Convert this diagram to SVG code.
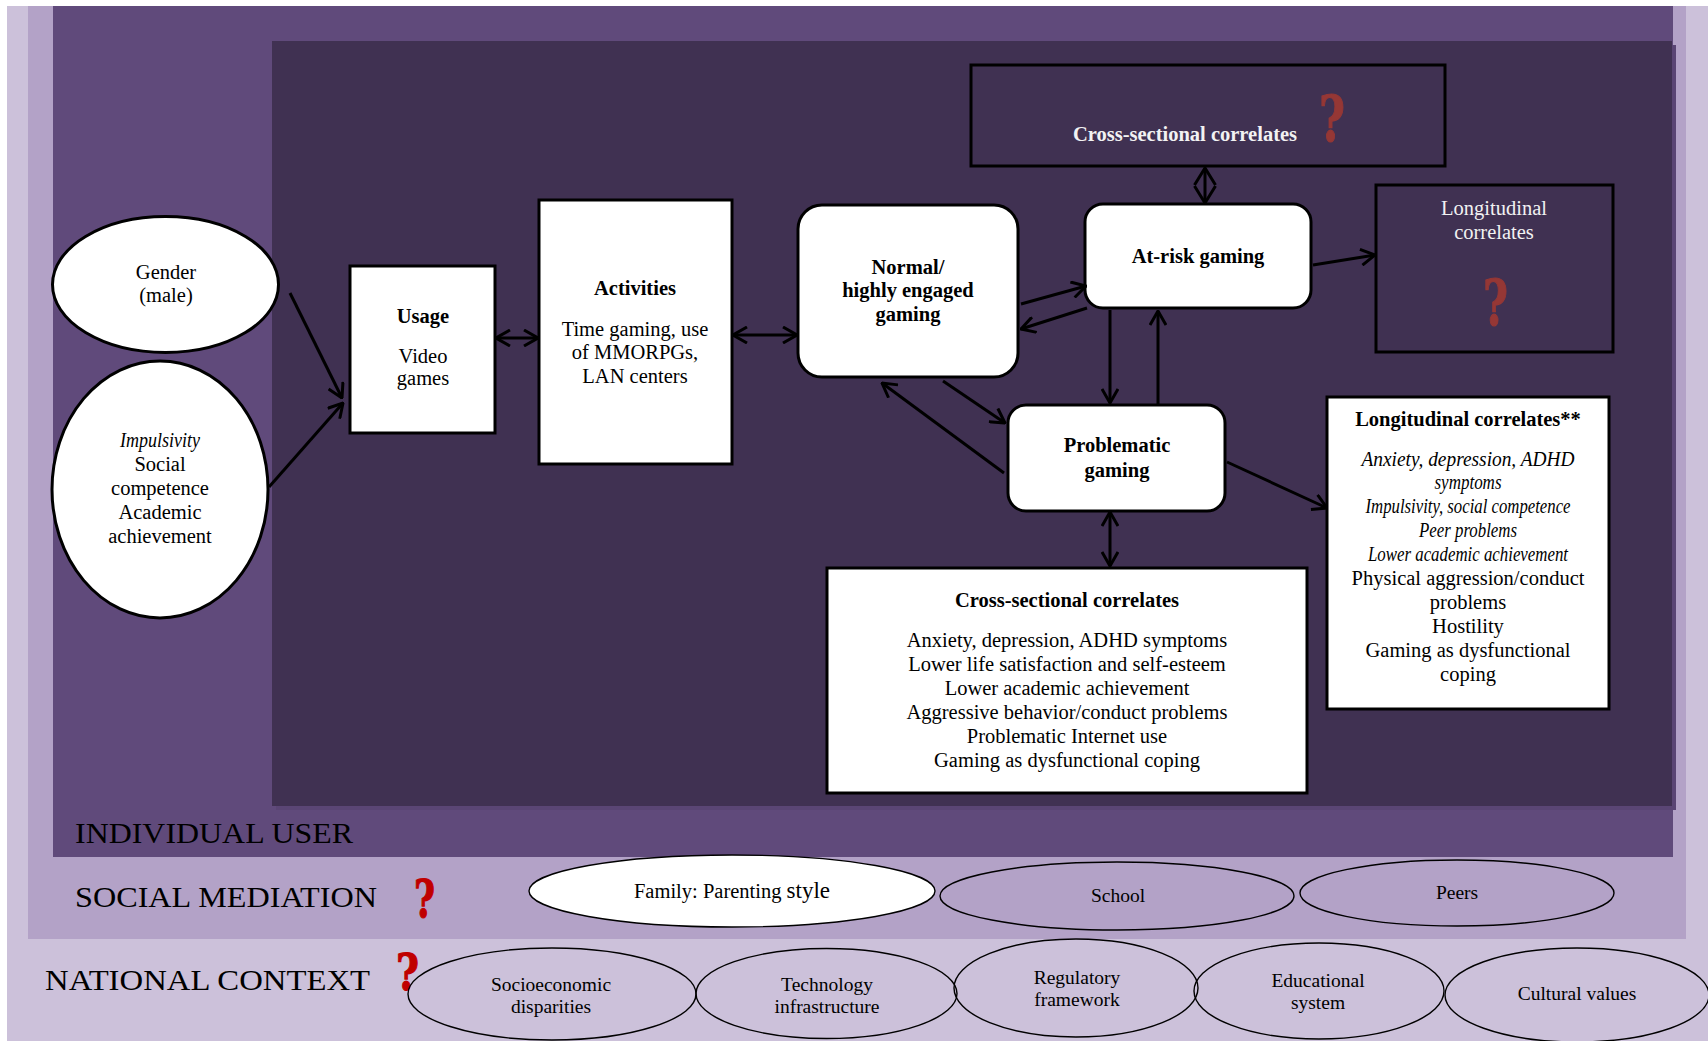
<svg xmlns="http://www.w3.org/2000/svg" width="1708" height="1041" viewBox="0 0 1708 1041">
  <defs>
    <style>
      .t { font-family: 'Liberation Serif', 'Times New Roman', serif; font-size: 20.5px; fill: #000; text-anchor: middle; }
      .b { font-weight: bold; }
      .i { font-style: italic; font-size: 20px; }
      .w { fill: #f2f2f2; }
      .box { fill: #fff; stroke: #000; stroke-width: 3; }
      .dbox { fill: #403152; stroke: #000; stroke-width: 3; }
      .oval { stroke: #000; stroke-width: 1.4; }
      .small { font-size: 19.5px; }
      .lbl { font-family: 'Liberation Serif', 'Times New Roman', serif; font-size: 29.5px; fill: #000; }
      .q { font-family: 'DejaVu Serif', 'Liberation Serif', serif; font-weight: bold; stroke-width: 1.2; }
      .q1 { fill: #953735; stroke: #953735; }
      .q2 { fill: #c00000; stroke: #c00000; }
      #connectors line { stroke: #000; stroke-width: 3; fill: none; }
    </style>
    <marker id="ah" viewBox="0 0 16 18" refX="15" refY="9" markerWidth="16" markerHeight="18" markerUnits="userSpaceOnUse" orient="auto-start-reverse">
      <path d="M1,1 L15,9 L1,17" fill="none" stroke="#000" stroke-width="3"/>
    </marker>
    <marker id="ahd" viewBox="0 0 19 24" refX="18" refY="12" markerWidth="19" markerHeight="24" markerUnits="userSpaceOnUse" orient="auto-start-reverse">
      <path d="M1,1.5 L18,12 L1,22.5" fill="none" stroke="#000" stroke-width="3"/>
    </marker>
  </defs>

  <!-- nested context layers -->
  <rect x="0" y="0" width="1708" height="1041" fill="#ffffff"/>
  <rect x="7" y="6" width="1701" height="1035" fill="#ccc1da"/>
  <rect x="28" y="6" width="1658" height="933" fill="#b3a2c7"/>
  <rect x="53" y="6" width="1620" height="851" fill="#604a7b"/>
  <rect x="276" y="45" width="1400" height="765" fill="#5a4574"/>
  <rect x="272" y="41" width="1400" height="765" fill="#403152"/>

  <!-- layer titles -->
  <text class="lbl" x="75" y="843" textLength="278" lengthAdjust="spacingAndGlyphs">INDIVIDUAL USER</text>
  <text class="lbl" x="75" y="907" textLength="302" lengthAdjust="spacingAndGlyphs">SOCIAL MEDIATION</text>
  <text class="q q2" x="414" y="917" font-size="52" textLength="21" lengthAdjust="spacingAndGlyphs">?</text>
  <text class="lbl" x="45" y="990" textLength="325" lengthAdjust="spacingAndGlyphs">NATIONAL CONTEXT</text>
  <text class="q q2" x="396" y="990" font-size="51" textLength="23" lengthAdjust="spacingAndGlyphs">?</text>

  <!-- individual factors -->
  <g id="gender">
    <ellipse cx="165.5" cy="284.5" rx="113" ry="68" fill="#fff" stroke="#000" stroke-width="3"/>
    <text class="t" x="166" y="279">Gender</text>
    <text class="t" x="166" y="302">(male)</text>
  </g>
  <g id="traits">
    <ellipse cx="160" cy="489.5" rx="108" ry="128.5" fill="#fff" stroke="#000" stroke-width="3"/>
    <text class="t i" x="160" y="447" textLength="80" lengthAdjust="spacingAndGlyphs">Impulsivity</text>
    <text class="t" x="160" y="471">Social</text>
    <text class="t" x="160" y="495">competence</text>
    <text class="t" x="160" y="519">Academic</text>
    <text class="t" x="160" y="543">achievement</text>
  </g>

  <g id="usage">
    <rect class="box" x="350" y="266" width="145" height="167"/>
    <text class="t b" x="423" y="323">Usage</text>
    <text class="t" x="423" y="363">Video</text>
    <text class="t" x="423" y="385">games</text>
  </g>

  <g id="activities">
    <rect class="box" x="539" y="200" width="193" height="264"/>
    <text class="t b" x="635" y="295">Activities</text>
    <text class="t" x="635" y="336">Time gaming, use</text>
    <text class="t" x="635" y="359">of MMORPGs,</text>
    <text class="t" x="635" y="383">LAN centers</text>
  </g>

  <g id="normal-gaming">
    <rect class="box" x="798" y="205" width="220" height="172" rx="24"/>
    <text class="t b" x="908" y="274">Normal/</text>
    <text class="t b" x="908" y="297">highly engaged</text>
    <text class="t b" x="908" y="321">gaming</text>
  </g>

  <g id="at-risk-gaming">
    <rect class="box" x="1085" y="204" width="226" height="104" rx="18"/>
    <text class="t b" x="1198" y="263">At-risk gaming</text>
  </g>

  <g id="problematic-gaming">
    <rect class="box" x="1008" y="405" width="217" height="106" rx="18"/>
    <text class="t b" x="1117" y="452">Problematic</text>
    <text class="t b" x="1117" y="477">gaming</text>
  </g>

  <g id="cross-sectional-atrisk">
    <rect class="dbox" x="971" y="65" width="474" height="101"/>
    <text class="t b w" x="1185" y="141">Cross-sectional correlates</text>
    <text class="q q1" x="1319" y="141" font-size="64" textLength="26" lengthAdjust="spacingAndGlyphs">?</text>
  </g>

  <g id="longitudinal-atrisk">
    <rect class="dbox" x="1376" y="185" width="237" height="167"/>
    <text class="t w" x="1494" y="215">Longitudinal</text>
    <text class="t w" x="1494" y="239">correlates</text>
    <text class="q q1" x="1483" y="325" font-size="64" textLength="25" lengthAdjust="spacingAndGlyphs">?</text>
  </g>

  <g id="longitudinal-problematic">
    <rect class="box" x="1327" y="397" width="282" height="312"/>
    <text class="t b" x="1468" y="426">Longitudinal correlates**</text>
    <text class="t i" x="1468" y="466" textLength="213" lengthAdjust="spacingAndGlyphs">Anxiety, depression, ADHD</text>
    <text class="t i" x="1468" y="489" textLength="67" lengthAdjust="spacingAndGlyphs">symptoms</text>
    <text class="t i" x="1468" y="513" textLength="205" lengthAdjust="spacingAndGlyphs">Impulsivity, social competence</text>
    <text class="t i" x="1468" y="537" textLength="98" lengthAdjust="spacingAndGlyphs">Peer problems</text>
    <text class="t i" x="1468" y="561" textLength="200" lengthAdjust="spacingAndGlyphs">Lower academic achievement</text>
    <text class="t" x="1468" y="585">Physical aggression/conduct</text>
    <text class="t" x="1468" y="609">problems</text>
    <text class="t" x="1468" y="633">Hostility</text>
    <text class="t" x="1468" y="657">Gaming as dysfunctional</text>
    <text class="t" x="1468" y="681">coping</text>
  </g>

  <g id="cross-sectional-problematic">
    <rect class="box" x="827" y="568" width="480" height="225"/>
    <text class="t b" x="1067" y="607">Cross-sectional correlates</text>
    <text class="t" x="1067" y="647">Anxiety, depression, ADHD symptoms</text>
    <text class="t" x="1067" y="671">Lower life satisfaction and self-esteem</text>
    <text class="t" x="1067" y="695">Lower academic achievement</text>
    <text class="t" x="1067" y="719">Aggressive behavior/conduct problems</text>
    <text class="t" x="1067" y="743">Problematic Internet use</text>
    <text class="t" x="1067" y="767">Gaming as dysfunctional coping</text>
  </g>

  <!-- social mediation -->
  <g id="family">
    <ellipse class="oval" cx="732" cy="891" rx="203" ry="36" fill="#fff"/>
    <text class="t" x="732" y="898" font-size="19"><tspan>Family: Parenting </tspan><tspan font-size="23">style</tspan></text>
  </g>
  <g id="school">
    <ellipse class="oval" cx="1117" cy="896" rx="177" ry="34" fill="none"/>
    <text class="t small" x="1118" y="902">School</text>
  </g>
  <g id="peers">
    <ellipse class="oval" cx="1457" cy="893" rx="157" ry="33" fill="none"/>
    <text class="t small" x="1457" y="899">Peers</text>
  </g>

  <!-- national context -->
  <g id="socioeconomic">
    <ellipse class="oval" cx="552" cy="994" rx="144" ry="46" fill="none"/>
    <text class="t small" x="551" y="991">Socioeconomic</text>
    <text class="t small" x="551" y="1013">disparities</text>
  </g>
  <g id="technology">
    <ellipse class="oval" cx="826.5" cy="993.5" rx="130.5" ry="45" fill="none"/>
    <text class="t small" x="827" y="991">Technology</text>
    <text class="t small" x="827" y="1013">infrastructure</text>
  </g>
  <g id="regulatory">
    <ellipse class="oval" cx="1076" cy="988" rx="122" ry="49" fill="none"/>
    <text class="t small" x="1077" y="984">Regulatory</text>
    <text class="t small" x="1077" y="1006">framework</text>
  </g>
  <g id="educational">
    <ellipse class="oval" cx="1319" cy="991" rx="125" ry="48" fill="none"/>
    <text class="t small" x="1318" y="987">Educational</text>
    <text class="t small" x="1318" y="1009">system</text>
  </g>
  <g id="cultural">
    <ellipse class="oval" cx="1577" cy="995" rx="132" ry="47" fill="none"/>
    <text class="t small" x="1577" y="1000">Cultural values</text>
  </g>

  <!-- connectors -->
  <g id="connectors">
    <line x1="290" y1="293" x2="342" y2="398" marker-end="url(#ah)"/>
    <line x1="269" y1="487" x2="343" y2="403" marker-end="url(#ah)"/>
    <line x1="496" y1="338" x2="538" y2="338" marker-start="url(#ah)" marker-end="url(#ah)"/>
    <line x1="733" y1="335" x2="797" y2="335" marker-start="url(#ah)" marker-end="url(#ah)"/>
    <line x1="1021" y1="304" x2="1086" y2="286" marker-end="url(#ah)"/>
    <line x1="1087" y1="308" x2="1021" y2="329" marker-end="url(#ah)"/>
    <line x1="1205" y1="168" x2="1205" y2="203" marker-start="url(#ahd)" marker-end="url(#ahd)"/>
    <line x1="1313" y1="265" x2="1375" y2="255" marker-end="url(#ah)"/>
    <line x1="1110" y1="310" x2="1110" y2="403" marker-end="url(#ah)"/>
    <line x1="1158" y1="404" x2="1158" y2="311" marker-end="url(#ah)"/>
    <line x1="943" y1="381" x2="1005" y2="423" marker-end="url(#ah)"/>
    <line x1="1004" y1="473" x2="882" y2="383" marker-end="url(#ah)"/>
    <line x1="1110" y1="512" x2="1110" y2="566" marker-start="url(#ah)" marker-end="url(#ah)"/>
    <line x1="1227" y1="462" x2="1327" y2="508" marker-end="url(#ah)"/>
  </g>
</svg>
